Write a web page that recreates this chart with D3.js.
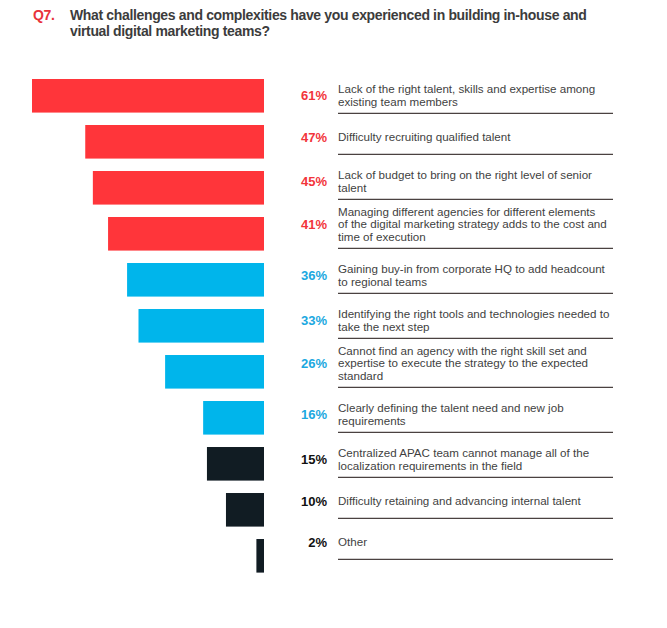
<!DOCTYPE html>
<html>
<head>
<meta charset="utf-8">
<script src="https://cdn.jsdelivr.net/npm/d3@7"></script>
<style>
  body { margin: 0; background: #fff; }
  text { font-family: "Liberation Sans Narrow", "Arial Narrow", "Liberation Sans", sans-serif; }
</style>
</head>
<body>
<svg id="chartSvg" width="667" height="628"></svg>
<script>
        // answers, top to bottom, as printed in the picture
        const categories = [
            ['Lack of the right talent, skills and expertise among', 'existing team members'],
            ['Difficulty recruiting qualified talent'],
            ['Lack of budget to bring on the right level of senior', 'talent'],
            ['Managing different agencies for different elements', 'of the digital marketing strategy adds to the cost and', 'time of execution'],
            ['Gaining buy-in from corporate HQ to add headcount', 'to regional teams'],
            ['Identifying the right tools and technologies needed to', 'take the next step'],
            ['Cannot find an agency with the right skill set and', 'expertise to execute the strategy to the expected', 'standard'],
            ['Clearly defining the talent need and new job', 'requirements'],
            ['Centralized APAC team cannot manage all of the', 'localization requirements in the field'],
            ['Difficulty retaining and advancing internal talent'],
            ['Other']
        ];
        const values = [61, 47, 45, 41, 36, 33, 26, 16, 15, 10, 2];
        const groups = ['top', 'top', 'top', 'top', 'mid', 'mid', 'mid', 'mid', 'low', 'low', 'low'];

        const titleLines = ['What challenges and complexities have you experienced in building in-house and',
                            'virtual digital marketing teams?'];

        const svg = d3.select('#chartSvg');

        const barRight = 264, barLeft = 32;
        const labelX = 338, lineEnd = 613;
        const lineGap = 12.5;
        const firstRule = 113.3;

        const data = values.map((v, i) => ({ id: i, value: v, lines: categories[i], group: groups[i] }));

        const xScale = d3.scaleLinear()
                            .domain([0, d3.max(values)])
                            .range([barRight, barLeft]);
        const yScale = d3.scaleBand()
                            .domain(data.map(d => d.id))
                            .range([79, 572.6])
                            .paddingInner(0.27)
                            .paddingOuter(0);

        // the text column flows on its own: each answer takes room by its number of lines
        const rowHeight = d => 37 + 4 * d.lines.length;
        const offsets = d3.cumsum(data.slice(1), rowHeight);
        data.forEach((d, i) => { d.rule = firstRule + (i === 0 ? 0 : offsets[i - 1]); });

        const barColor = d3.scaleOrdinal().domain(['top', 'mid', 'low']).range(['#ff353a', '#00b5eb', '#111c23']);
        const pctColor = d3.scaleOrdinal().domain(['top', 'mid', 'low']).range(['#f2353b', '#1ba8e0', '#111111']);

        // title
        svg.append('text')
            .attr('x', 33).attr('y', 20)
            .style('font-size', '14px').style('font-weight', 'bold')
            .style('letter-spacing', '-0.3px')
            .style('fill', '#e8323a')
            .text('Q7.');
        svg.append('text')
            .attr('x', 70).attr('y', 20)
            .style('font-size', '14px').style('font-weight', 'bold')
            .style('letter-spacing', '-0.35px')
            .style('fill', '#3c3c3c')
            .selectAll('tspan')
            .data(titleLines)
            .enter().append('tspan')
            .attr('x', 70)
            .attr('dy', (d, i) => i === 0 ? 0 : 16)
            .text(d => d);

        const row = svg.append('g').selectAll('g')
                        .data(data)
                        .enter().append('g');

        row.append('rect')
            .attr('x', d => xScale(d.value))
            .attr('y', d => yScale(d.id))
            .attr('width', d => xScale(0) - xScale(d.value))
            .attr('height', yScale.bandwidth())
            .style('fill', d => barColor(d.group));

        // centre of the text block, kept clear of the rule below it
        const textMid = d => Math.min(d.rule - 17, d.rule - 11.5 - (d.lines.length - 1) * lineGap / 2);

        row.append('text')
            .attr('x', 327)
            .attr('y', d => textMid(d) + 4.5)
            .attr('text-anchor', 'end')
            .style('font-size', '13px').style('font-weight', 'bold')
            .style('fill', d => pctColor(d.group))
            .text(d => d.value + '%');

        row.append('text')
            .attr('y', d => textMid(d) - (d.lines.length - 1) * lineGap / 2 + 4)
            .style('font-size', '11.6px')
            .style('fill', '#3f3f3f')
            .selectAll('tspan')
            .data(d => d.lines)
            .enter().append('tspan')
            .attr('x', labelX)
            .attr('dy', (d, i) => i === 0 ? 0 : lineGap)
            .text(d => d);

        row.append('line')
            .attr('x1', labelX).attr('x2', lineEnd)
            .attr('y1', d => d.rule)
            .attr('y2', d => d.rule)
            .style('stroke', '#4a4240')
            .style('stroke-width', 1.2);
</script>
</body>
</html>
